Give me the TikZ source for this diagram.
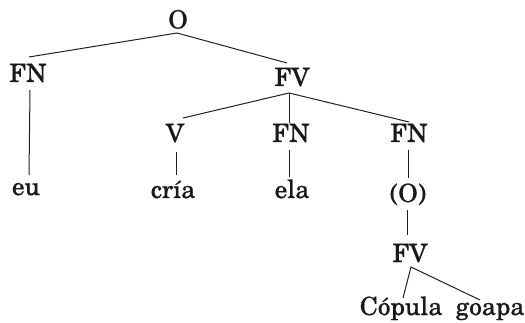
\documentclass[tikz,border=0pt]{standalone}
\usepackage{fontspec}
\setmainfont{TeX Gyre Schola}[FakeBold=0.6]
\begin{document}
\begin{tikzpicture}[x=1pt,y=1pt,
  lab/.style={inner sep=0pt,anchor=base,font=\fontsize{25.2}{29}\selectfont,text=black!90},
  edge/.style={line width=1pt,draw=black!88}]
\useasboundingbox (0,0) rectangle (525,-323);
\node[lab] (O) at (178,-28.5) {O};
\node[lab] (FNa) at (28,-82) {FN};
\node[lab] (FV) at (292,-86) {FV};
\node[lab] (eu) at (26,-195) {eu};
\node[lab] (V) at (175,-142) {V};
\node[lab] (FNb) at (291,-142) {FN};
\node[lab] (FNc) at (409,-142) {FN};
\node[lab] (cria) at (173,-198) {cría};
\node[lab] (ela) at (292,-198) {ela};
\node[lab] (Opar) at (408,-202) {(O)};
\node[lab] (FVb) at (410,-262) {FV};
\node[lab] (Copula) at (401,-315) {Cópula};
\node[lab] (goapa) at (490,-315) {goapa};
\draw[edge] ([shift={(-1,-4.5)}]O.base) -- ([shift={(1,25)}]FNa.base);
\draw[edge] ([shift={(-1,-4.5)}]O.base) -- ([shift={(-5,23)}]FV.base);
\draw[edge] ([shift={(2,-8)}]FNa.base) -- ([shift={(3,20)}]eu.base);
\draw[edge] ([shift={(-3,-7)}]FV.base) -- ([shift={(8,24)}]V.base);
\draw[edge] ([shift={(-3,-7)}]FV.base) -- ([shift={(-2,19)}]FNb.base);
\draw[edge] ([shift={(-3,-7)}]FV.base) -- ([shift={(0,20)}]FNc.base);
\draw[edge] ([shift={(1,-10)}]V.base) -- ([shift={(3,23)}]cria.base);
\draw[edge] ([shift={(-2,-8)}]FNb.base) -- ([shift={(-3,21)}]ela.base);
\draw[edge] ([shift={(-1,-8)}]FNc.base) -- ([shift={(0,24)}]Opar.base);
\draw[edge] ([shift={(-1,-8)}]Opar.base) -- ([shift={(-3,27)}]FVb.base);
\draw[edge] ([shift={(1,-5)}]FVb.base) -- ([shift={(2,17)}]Copula.base);
\draw[edge] ([shift={(1,-5)}]FVb.base) -- ([shift={(-10,15)}]goapa.base);
\end{tikzpicture}
\end{document}
